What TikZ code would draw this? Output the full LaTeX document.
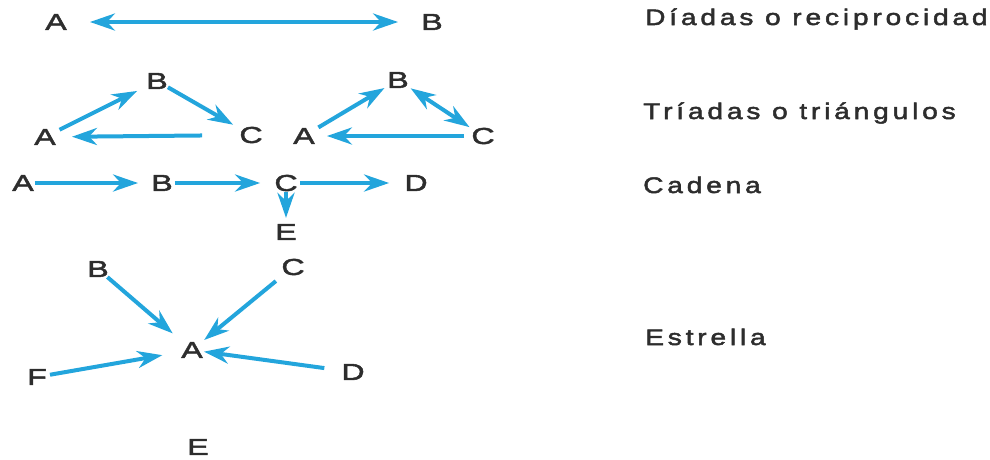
\documentclass[tikz,border=0pt]{standalone}
\usepackage{fontspec}
\setmainfont{Liberation Sans}
\newfontfamily\lblfont[FakeStretch=1.25,LetterSpace=17,FakeBold=2.2]{Liberation Sans}
\newfontfamily\ltrfont[FakeStretch=1.4,FakeBold=2.2]{Liberation Sans}
\usetikzlibrary{arrows.meta}
\definecolor{arrowblue}{RGB}{35,165,220}
\definecolor{inkgray}{RGB}{45,45,45}
\tikzset{
  ltr/.style={inner sep=0pt, text=inkgray, font=\ltrfont\fontsize{23}{23}\selectfont},
  lbl/.style={inner sep=0pt, anchor=base west, text=inkgray, font=\lblfont\fontsize{22.5}{22.5}\selectfont},
  tip/.tip={Stealth[length=25pt,width=17pt,inset=8pt]},
  con/.style={draw=arrowblue, line width=4pt, -tip},
  bicon/.style={draw=arrowblue, line width=4pt, tip-tip}
}
\begin{document}
\begin{tikzpicture}[x=1pt,y=-1pt]
\useasboundingbox (0,0) rectangle (990,459);
% labels
\node[lbl] (l1) at (645,25) {Díadas o reciprocidad};
\node[lbl] (l2) at (643,119) {Tríadas o triángulos};
\node[lbl] (l3) at (643,193) {Cadena};
\node[lbl] (l4) at (645,345) {Estrella};
% dyad
\node[ltr] (dA) at (56,22) {A};
\node[ltr] (dB) at (432,22) {B};
\draw[bicon, shorten <=23pt, shorten >=23pt] (dA) -- (dB);
% left triad
\node[ltr] (t1A) at (45,137) {A};
\node[ltr] (t1B) at (157,81) {B};
\node[ltr] (t1C) at (251,135) {C};
\draw[con, shorten <=4pt, shorten >=10pt] (t1A) -- (t1B);
\draw[con, shorten <=0pt, shorten >=7pt] (t1B) -- (t1C);
\draw[con, shorten <=37pt, shorten >=16pt] (t1C) -- (t1A);
% right triad
\node[ltr] (t2A) at (304,136) {A};
\node[ltr] (t2B) at (398,80) {B};
\node[ltr] (t2C) at (483,136) {C};
\draw[con, shorten <=4pt, shorten >=3pt] (t2A) -- (t2B);
\draw[bicon, shorten <=2pt, shorten >=2pt] (t2B) -- (t2C);
\draw[con, shorten <=7pt, shorten >=12pt] (t2C) -- (t2A);
% chain
\node[ltr] (cA) at (23,183) {A};
\node[ltr] (cB) at (162,183) {B};
\node[ltr] (cC) at (286,183) {C};
\node[ltr] (cD) at (416,183) {D};
\node[ltr] (cE) at (286,232) {E};
\draw[con, shorten <=1pt, shorten >=13pt] (cA) -- (cB);
\draw[con, shorten <=2pt, shorten >=14pt] (cB) -- (cC);
\draw[con, shorten <=2pt, shorten >=15pt] (cC) -- (cD);
\draw[con, shorten <=1pt, shorten >=6pt] (cC) -- (cE);
% star
\node[ltr] (sA) at (192,350) {A};
\node[ltr] (sB) at (98,269) {B};
\node[ltr] (sC) at (293,267) {C};
\node[ltr] (sD) at (353,372) {D};
\node[ltr] (sF) at (37,377) {F};
\node[ltr] (sE) at (198,447) {E};
\draw[con, shorten <=0pt, shorten >=13pt] (sB) -- (sA);
\draw[con, shorten <=9pt, shorten >=3pt] (sC) -- (sA);
\draw[con, shorten <=3pt, shorten >=19pt] (sF) -- (sA);
\draw[con, shorten <=17pt, shorten >=1pt] (sD) -- (sA);
\end{tikzpicture}
\end{document}
